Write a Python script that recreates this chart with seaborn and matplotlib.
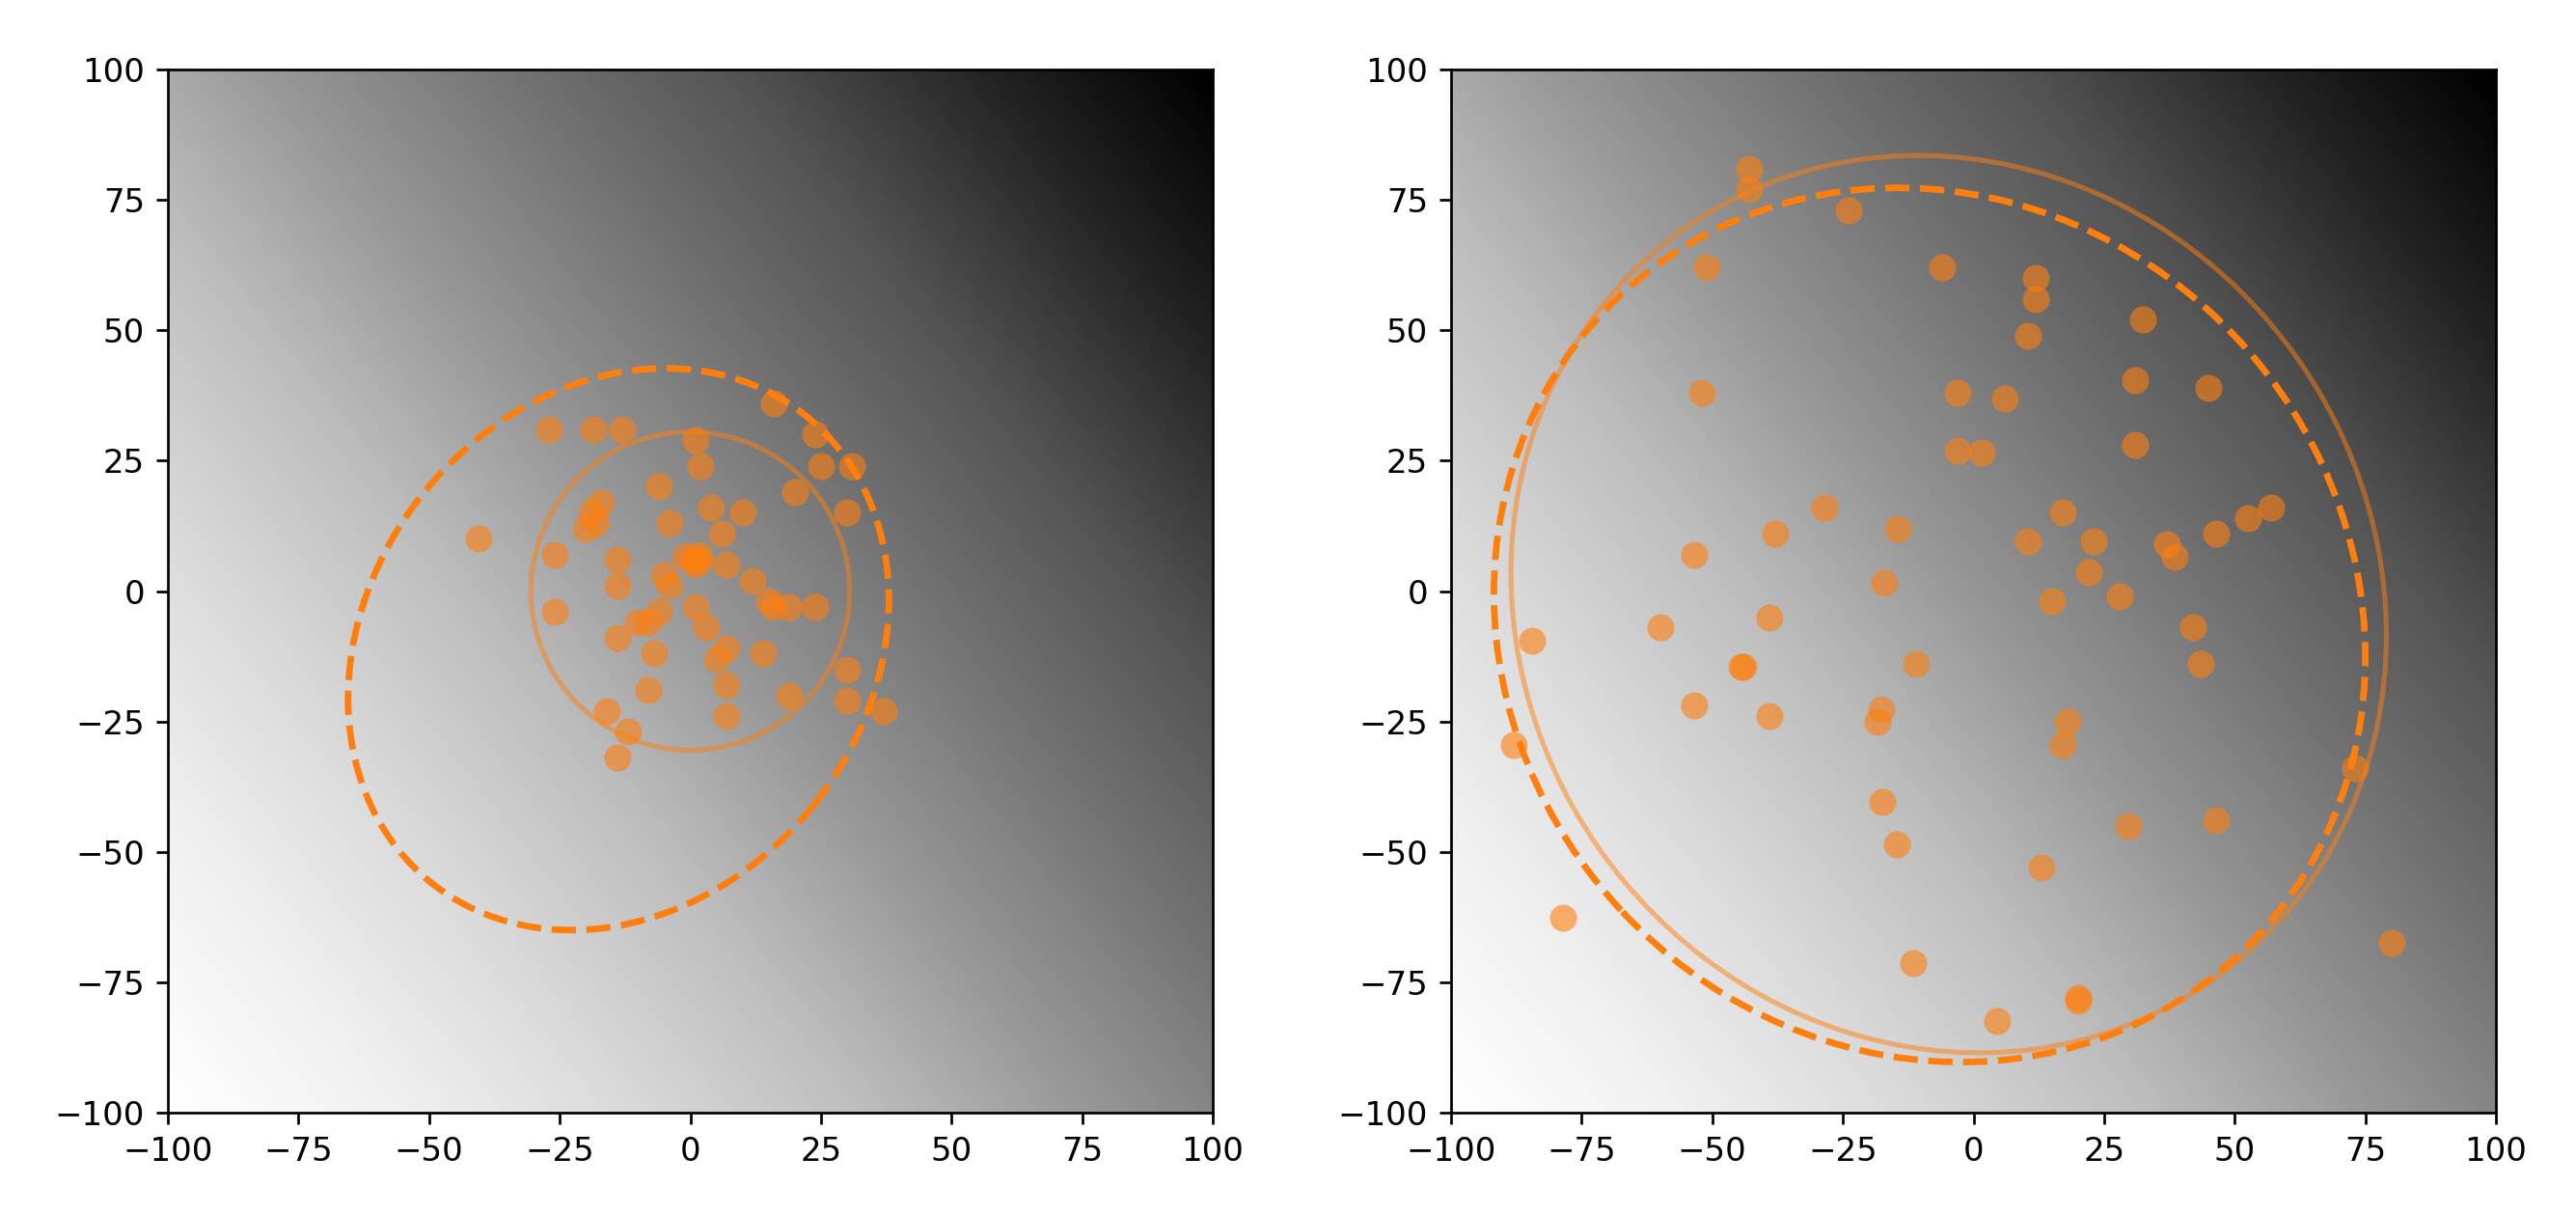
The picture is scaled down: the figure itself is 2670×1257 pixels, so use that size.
import numpy as np
import pandas as pd
import matplotlib
matplotlib.use("Agg")
import matplotlib.pyplot as plt
from matplotlib.patches import Ellipse
import seaborn as sns

# ---------------- data ----------------
left_x = [16, -27, -18.5, -13, 1, 2, 24, 31, 25, 20, 30, -6, -17, -19, -18, -20,
          4, 10, -4, 6, -40.5, -26, -14, -1, 0.5, 2, 1, 1.5, 7, 12, -14, -5, -4,
          15, 16, 19, 24, 1, -26, 3, -10, -8, -6, -14, -7, 7, 5, 14, 7, 30, -8,
          19, 30, 37, -16, 7, -12, -14]
left_y = [36, 31, 31, 31, 29, 24, 30, 24, 24, 19, 15, 20, 17, 15, 13, 12,
          16, 15, 13, 11, 10, 7, 6, 6.5, 6, 6, 5, 7, 5, 2, 1, 3, 1,
          -2, -3, -3, -3, -3, -4, -7, -6, -6, -4, -9, -12, -11, -13, -12, -18, -15, -19,
          -20, -21, -23, -23, -24, -27, -32]

right_x = [-43, -43, -24, -51, -6, -52, 12, 12, 10.5, 32.5, 31, 45, -3, 6, -3, 1.6,
           31, -28.5, -38, -14.5, -53.5, 17, 10.5, 23, 37, 38.5, 46.5, 52.5, 57, 22,
           -17, 15, 28, -60, -39, -84.5, -44.5, -44, -11, 42, 43.5, -53.5, -39, -17.6,
           -18.4, 18, 17, -88, 73, -17.4, 29.6, 46.5, -14.6, 13, -78.6, -11.6, 80,
           20, 20, 4.5]
right_y = [81, 77, 73, 62, 62, 38, 60, 56, 49, 52, 40.5, 39, 38, 37, 27, 26.5,
           28, 16, 11, 12, 7, 15, 9.6, 9.6, 9, 6.6, 11, 14, 16, 3.7,
           1.5, -2, -1, -7, -5, -9.5, -14.6, -14.6, -14, -7, -14, -22, -24, -22.7,
           -25, -25, -29.5, -29.5, -34, -40.4, -45, -44, -48.6, -53, -62.6, -71.4, -67.5,
           -78, -78.5, -82.5]

# fitted outlines: (center_x, center_y, width, height, angle)
left_circle = (0, 0, 61, 61, 0)
left_dashed = (-13.75, -11.15, 114.7, 95.7, 51.4)
right_solid = (-4.75, -2.5, 176.0, 163.4, -55.4)
right_dashed = (-8.4, -6.5, 173.2, 161.0, -46.9)

ticks = [-100, -75, -50, -25, 0, 25, 50, 75, 100]

# ---------------- figure ----------------
DPI = 245
fig = plt.figure(figsize=(2670 / DPI, 1257 / DPI), dpi=DPI)

ax_l = fig.add_axes([174 / 2670, 104 / 1257, 1083 / 2670, 1081 / 1257])
ax_r = fig.add_axes([1504 / 2670, 104 / 1257, 1083 / 2670, 1081 / 1257])

orange = "#ff7f0e"

gu, gv = np.meshgrid(np.linspace(0, 1, 400), np.linspace(0, 1, 400))
grad = 0.56 * gu + 0.44 * gv


def draw(ax, xs, ys, solid, dashed):
    ax.imshow(grad, extent=[-100, 100, -100, 100], origin="lower",
              cmap="Greys", vmin=0, vmax=1, interpolation="bicubic",
              zorder=0, aspect="auto")
    df = pd.DataFrame({"x": xs, "y": ys})
    sns.scatterplot(data=df, x="x", y="y", ax=ax, color=orange, alpha=0.6,
                    s=68, linewidth=0, zorder=3, legend=False)
    cx, cy, w, h, a = solid
    ax.add_patch(Ellipse((cx, cy), w, h, angle=a, fill=False, ec=orange,
                         lw=1.5, alpha=0.5, zorder=4))
    cx, cy, w, h, a = dashed
    ax.add_patch(Ellipse((cx, cy), w, h, angle=a, fill=False, ec=orange,
                         lw=2, ls="--", zorder=5))
    ax.set_xlim(-100, 100)
    ax.set_ylim(-100, 100)
    ax.set_xticks(ticks)
    ax.set_yticks(ticks)
    ax.set_xlabel("")
    ax.set_ylabel("")


draw(ax_l, left_x, left_y, left_circle, left_dashed)
draw(ax_r, right_x, right_y, right_solid, right_dashed)

fig.savefig("out.png", dpi=DPI, facecolor="white")
